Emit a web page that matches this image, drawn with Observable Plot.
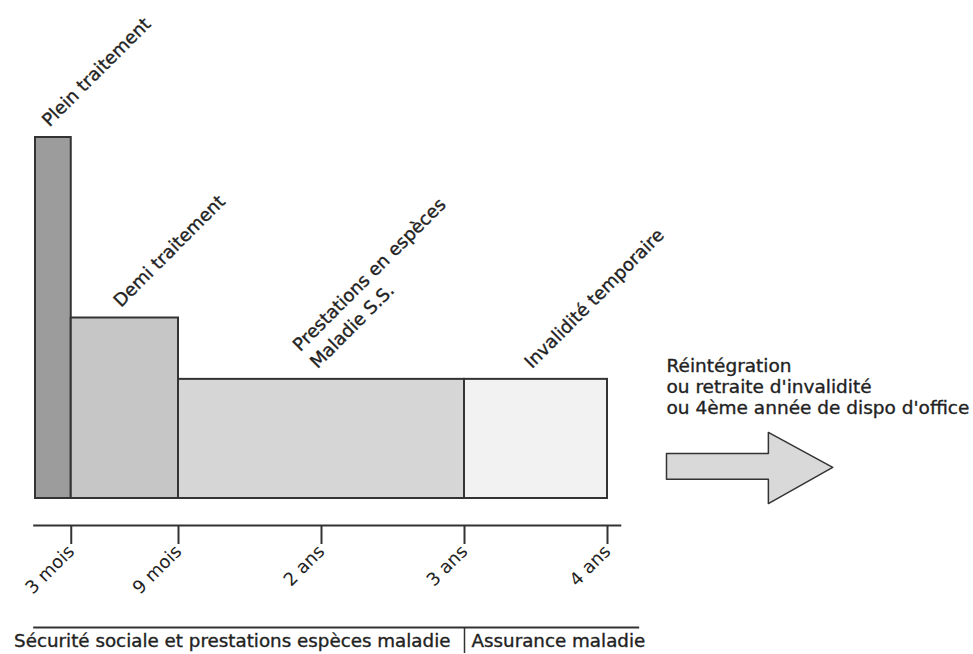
<!DOCTYPE html>
<html>
<head>
<meta charset="utf-8">
<script src="https://cdn.jsdelivr.net/npm/d3@7"></script>
<script src="https://cdn.jsdelivr.net/npm/@observablehq/plot@0.6"></script>
<style>
  html, body { margin: 0; padding: 0; background: #fff; }
</style>
</head>
<body>
<div id="chart"></div>
<script>
// Segments of the sick-leave timeline (x in layout units, level = relative pay)
const segments = ["Plein traitement", "Demi traitement", "Prestations en espèces\nMaladie S.S.", "Invalidité temporaire"];
const segStart = [0, 1, 4, 12];
const segEnd = [1, 4, 12, 16];
const segLevel = [100, 50, 33, 33];
const segFill = ["#9c9c9c", "#c6c6c6", "#d6d6d6", "#f2f2f2"];

// Time axis
const tickPos = [1, 4, 8, 12, 16];
const tickLabels = ["3 mois", "9 mois", "2 ans", "3 ans", "4 ans"];

// Regime split (bottom band)
const regimeSplit = [12];
const regimeLabels = ["Sécurité sociale et prestations espèces maladie", "Assurance maladie"];

// Outcome note and arrow
const outcomeText = ["Réintégration\nou retraite d'invalidité\nou 4ème année de dispo d'office"];
const arrowX = [17.65, 20.5, 20.5, 22.3, 20.5, 20.5, 17.65, 17.65];
const arrowY = [12.5, 12.5, 18.3, 8.6, -1.4, 5.3, 5.3, 12.5];

const bars = segments.map((s, i) => ({label: s, start: segStart[i], end: segEnd[i], level: segLevel[i], fill: segFill[i], mid: (segStart[i] + segEnd[i]) / 2}));
const arrow = arrowX.map((x, i) => ({x, y: arrowY[i]}));

const ink = "#222";
const font = "DejaVu Sans";
const textStroke = {stroke: ink, strokeWidth: 0.35};

const chart = Plot.plot({
  width: 973,
  height: 654,
  marginLeft: 35,
  marginRight: 366,
  marginTop: 137,
  marginBottom: 156,
  x: {domain: [0, 16]},
  y: {domain: [0, 100], axis: null},
  style: {fontFamily: font, fontSize: "18px", color: ink, background: "#fff", overflow: "visible"},
  marks: [
    Plot.rectY(bars, {x1: "start", x2: "end", y: "level", fill: "fill", stroke: "#333", strokeWidth: 2}),
    Plot.text(bars, {x: "mid", y: "level", text: "label", rotate: -45, textAnchor: "start", lineAnchor: "bottom", lineHeight: 1.35, dx: -4, dy: -10, fontSize: 18, fill: ink, ...textStroke}),
    // time axis
    Plot.ruleY([0], {x1: -0.05, x2: 16.4, dy: 27, stroke: "#333", strokeWidth: 2}),
    Plot.axisX(tickPos, {tickFormat: d => tickLabels[tickPos.indexOf(d)], tickSize: 19, tickRotate: -45, tickPadding: 4, dy: 27, stroke: "#333", strokeWidth: 2, fontSize: 18, fill: ink, label: null}),
    // regime band
    Plot.ruleY([0], {x1: -0.05, x2: 16.9, dy: 129, stroke: "#333", strokeWidth: 2}),
    Plot.ruleX(regimeSplit, {y1: 0, y2: -7.2, dy: 129, stroke: "#333", strokeWidth: 1.5}),
    Plot.text(regimeSplit, {x: d => d, y: 0, text: () => regimeLabels[0], textAnchor: "end", dx: -14, dy: 143, fontSize: 18.3, fill: ink, ...textStroke}),
    Plot.text(regimeSplit, {x: d => d, y: 0, text: () => regimeLabels[1], textAnchor: "start", dx: 7, dy: 143, fontSize: 18.3, fill: ink, ...textStroke}),
    // outcome arrow and note
    Plot.line(arrow, {x: "x", y: "y", fill: "#d9d9d9", stroke: "#333", strokeWidth: 1.5, curve: "linear"}),
    Plot.text(outcomeText, {x: () => 17.65, y: () => 39, text: d => d, textAnchor: "start", lineAnchor: "top", lineHeight: 1.12, fontSize: 18.5, fill: ink, ...textStroke})
  ]
});

document.getElementById("chart").appendChild(chart);
</script>
</body>
</html>
